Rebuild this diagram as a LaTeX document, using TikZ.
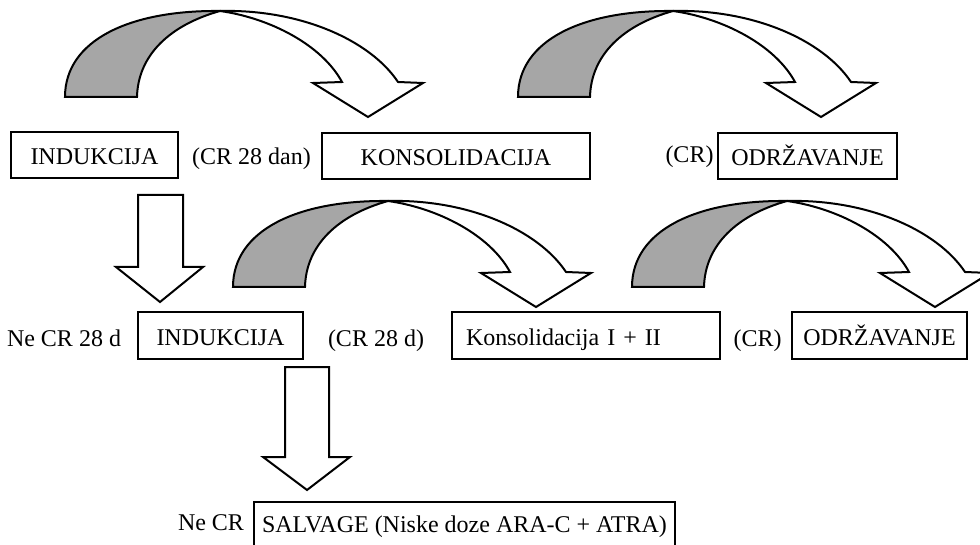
\documentclass[tikz,border=0pt]{standalone}
\usepackage{fontspec}
\setmainfont{Liberation Serif}
\tikzset{
  stagebox/.style={draw, line width=1pt, inner sep=0pt, minimum height=23pt,
    text height=0.95em, text depth=0pt, font=\fontsize{12}{14}\selectfont},
  plainlabel/.style={inner sep=0pt, anchor=base, font=\fontsize{12}{14}\selectfont},
  blockarrow/.style={draw, line width=1pt, line join=miter, fill=white},
  backside/.style={draw, line width=1pt, line join=miter, fill=black!35},
  % twisted ribbon arrow, origin = lower left corner of the grey part
  turnarrow/.pic={
    \path[backside] (0,0) -- (72,0) .. controls (73,-42) and (105,-72) .. (155,-86)
      .. controls (65,-87) and (0,-57) .. (0,0) -- cycle;
    \path[blockarrow] (155,-86) .. controls (235,-88) and (305,-57) .. (333,-15)
      -- (358,-14) -- (303,20) -- (248,-14) -- (277,-15)
      .. controls (257,-52) and (205,-79) .. (155,-86) -- cycle;
  }
}
\begin{document}
\begin{tikzpicture}[x=0.5pt, y=-0.5pt]
    % 1. canvas
    \useasboundingbox (0,0) rectangle (980,545);
    \clip (0,0) rectangle (980,545);
    % 2. first row
    \node[stagebox, minimum width=83.5pt] (ind1) at (94.5,155) {INDUKCIJA};
    \node[plainlabel] (cr1) at (251.5,165) {(CR 28 dan)};
    \node[stagebox, minimum width=134pt] (kons1) at (456,156) {KONSOLIDACIJA};
    \node[plainlabel] (cr2) at (689.5,163) {(CR)};
    \node[stagebox, minimum width=89.5pt] (odr1) at (807.5,156) {ODRŽAVANJE};
    \pic at (65,97) {turnarrow};
    \pic at (518,97) {turnarrow};
    % 3. second row
    \node[plainlabel] (necr1) at (64,347) {Ne CR 28 d};
    \node[stagebox, minimum width=82.5pt] (ind2) at (220.5,335.5) {INDUKCIJA};
    \node[plainlabel] (cr3) at (376,347) {(CR 28 d)};
    \node[stagebox, inner xsep=7pt, text width=120pt, align=left] (kons2) at (586,335.5) {Konsolidacija I + II};
    \node[plainlabel] (cr4) at (757.5,347) {(CR)};
    \node[stagebox, minimum width=87.5pt] (odr2) at (879.5,335.5) {ODRŽAVANJE};
    \pic at (233,287) {turnarrow};
    \pic at (632,287) {turnarrow};
    % 4. down arrows
    \draw[blockarrow] (138,195) -- (183,195) -- (183,267) -- (203,267) -- (160,302)
      -- (116,267) -- (138,267) -- cycle;
    \draw[blockarrow] (285,367) -- (329,367) -- (329,457) -- (350,457) -- (307,490)
      -- (263,457) -- (285,457) -- cycle;
    % 5. third row
    \node[plainlabel] (necr2) at (211,530) {Ne CR};
    \node[stagebox, minimum width=210.5pt, text height=0.7em] (salv) at (464.5,525) {SALVAGE (Niske doze ARA-C + ATRA)};
\end{tikzpicture}
\end{document}
